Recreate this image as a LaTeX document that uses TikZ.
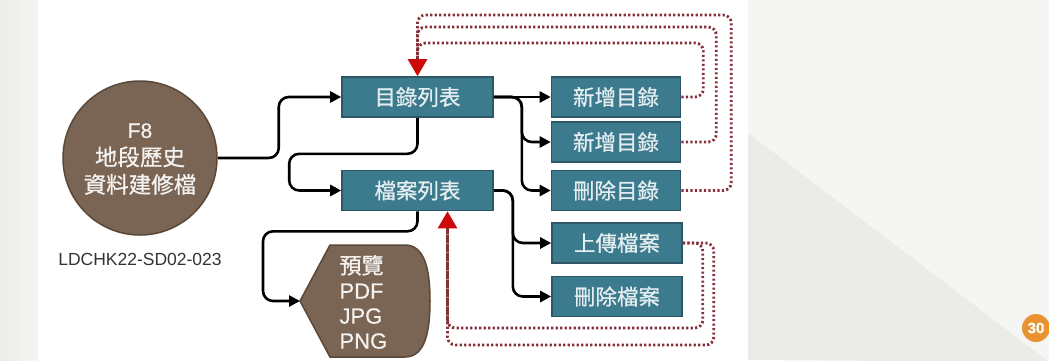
\documentclass[tikz,border=0pt]{standalone}
\usepackage{fontspec}
\setmainfont{Liberation Sans}[FakeBold=0.8]
\newfontfamily\cjk{Noto Sans CJK TC}
\newfontfamily\cjkb{Noto Sans CJK TC}[FakeBold=0.8]
\newfontfamily\latb{Liberation Sans}[FakeBold=0.5]
\usetikzlibrary{arrows.meta}
\definecolor{teal1}{HTML}{3C7A8D}
\definecolor{teal2}{HTML}{2B5766}
\definecolor{brown1}{HTML}{7A6453}
\definecolor{brown2}{HTML}{5A4839}
\definecolor{boxtxt}{HTML}{E4EEF0}
\definecolor{dotred}{HTML}{86303A}
\definecolor{tipred}{HTML}{CC0A0A}
\definecolor{bgA}{HTML}{F5F5F4}
\definecolor{bgB}{HTML}{EBEBE7}
\definecolor{orng}{HTML}{E89230}
\tikzset{
  box/.style={draw=teal2, line width=1.6pt, fill=teal1, text=boxtxt, inner sep=0pt,
    minimum height=40pt, font=\cjkb\fontsize{21.5}{24}\selectfont},
  bigbox/.style={box, minimum width=151pt},
  smallbox/.style={box, minimum width=129pt},
  conn/.style={line width=2.6pt, rounded corners=10pt, -{Triangle[length=11pt,width=11pt]}},
  fb/.style={draw=dotred, line width=2.8pt, dash pattern=on 2.2pt off 2.3pt, rounded corners=8pt},
  fbtip/.style={fb, -{Triangle[length=17pt,width=19pt,fill=tipred,color=tipred,sep=0pt]}},
}
\begin{document}
\begin{tikzpicture}[x=1pt,y=-1pt]
% background
\useasboundingbox (0,0) rectangle (1049,360);
\fill[bgA] (0,0) rectangle (1049,360);
\shade[left color=bgB, right color=bgA] (0,0) rectangle (38,360);
\fill[white] (38,0) rectangle (748,360);
\fill[bgB] (748,133) -- (1049,362) -- (748,360) -- cycle;
\node[circle, fill=orng, minimum size=28pt, inner sep=0pt, text=white, font=\bfseries\fontsize{15}{15}\selectfont] (pg) at (1036,328) {30};

% circle
\node[circle, draw=brown2, line width=1.5pt, fill=brown1, minimum size=154pt, inner sep=0pt] (circ) at (140,158) {};
\node[align=center, text=white!92!brown1, font=\latb\fontsize{21}{27.5}\selectfont] (circt) at (140,159)
  {F8\\{\cjkb\fontsize{22.5}{27.5}\selectfont 地段歷史}\\{\cjkb\fontsize{22.5}{27.5}\selectfont 資料建修檔}};
\node[text=black!80, font=\fontsize{17.5}{20}\selectfont] (code) at (140,259) {\fontspec{Liberation Sans}LDCHK22-SD02-023};

% boxes
\node[bigbox] (dir) at (417.5,97) {目錄列表};
\node[bigbox] (file) at (417.5,190.5) {檔案列表};
\node[smallbox] (add1) at (616,97) {新增目錄};
\node[smallbox] (add2) at (616,142) {新增目錄};
\node[smallbox] (del) at (616,190.5) {刪除目錄};
\node[smallbox, minimum width=130pt] (up) at (617,243) {上傳檔案};
\node[smallbox, minimum width=130pt] (delf) at (617,296.5) {刪除檔案};

% display shape
\coordinate (prevw) at (300,301);
\filldraw[fill=brown1, draw=brown2, line width=1.5pt]
  (prevw) -- (330,245) -- (405,245) .. controls (425,245) and (430,270) .. (430,301)
  .. controls (430,332) and (425,357) .. (405,357) -- (330,357) -- cycle;
\node[anchor=west, align=left, text=white!92!brown1, font=\latb\fontsize{22}{25}\selectfont] (prevt) at (336,302)
  {{\cjkb 預覽}\\PDF\\JPG\\PNG};

% black connectors
\draw[conn] (circ.east) -- ++(61,0) |- (dir.west);
\draw[conn] (dir.south) -- ++(0,36) -| ([xshift=-52pt]file.west) -- (file.west);
\draw[conn] (file.south) -- ++(0,20) -| ([xshift=-37pt]prevw) -- (prevw);
\draw[conn] (dir.east) -- (add1.west);
\draw[conn] (dir.east) -- ++(28,0) |- (add2.west);
\draw[conn] (dir.east) -- ++(28,0) |- (del.west);
\draw[conn] (file.east) -- ++(19,0) |- (up.west);
\draw[conn] (file.east) -- ++(19,0) |- (delf.west);

% red dotted feedback
\draw[fb] (add1.east) -- ++(22,0) -- ++(0,-54) -| ([yshift=18pt]dir.north);
\draw[fb] (add2.east) -- ++(35,0) -- ++(0,-115) -| ([yshift=18pt]dir.north);
\draw[fbtip] (del.east) -- ++(50,0) -- ++(0,-175.5) -| (dir.north);
\draw[fb] (up.east) -- ++(20,0) -- ++(0,85) -| ([xshift=30pt,yshift=-18pt]file.south);
\draw[fbtip] (up.east) -- ++(31,0) -- ++(0,102) -| ([xshift=30pt]file.south);
\end{tikzpicture}
\end{document}
